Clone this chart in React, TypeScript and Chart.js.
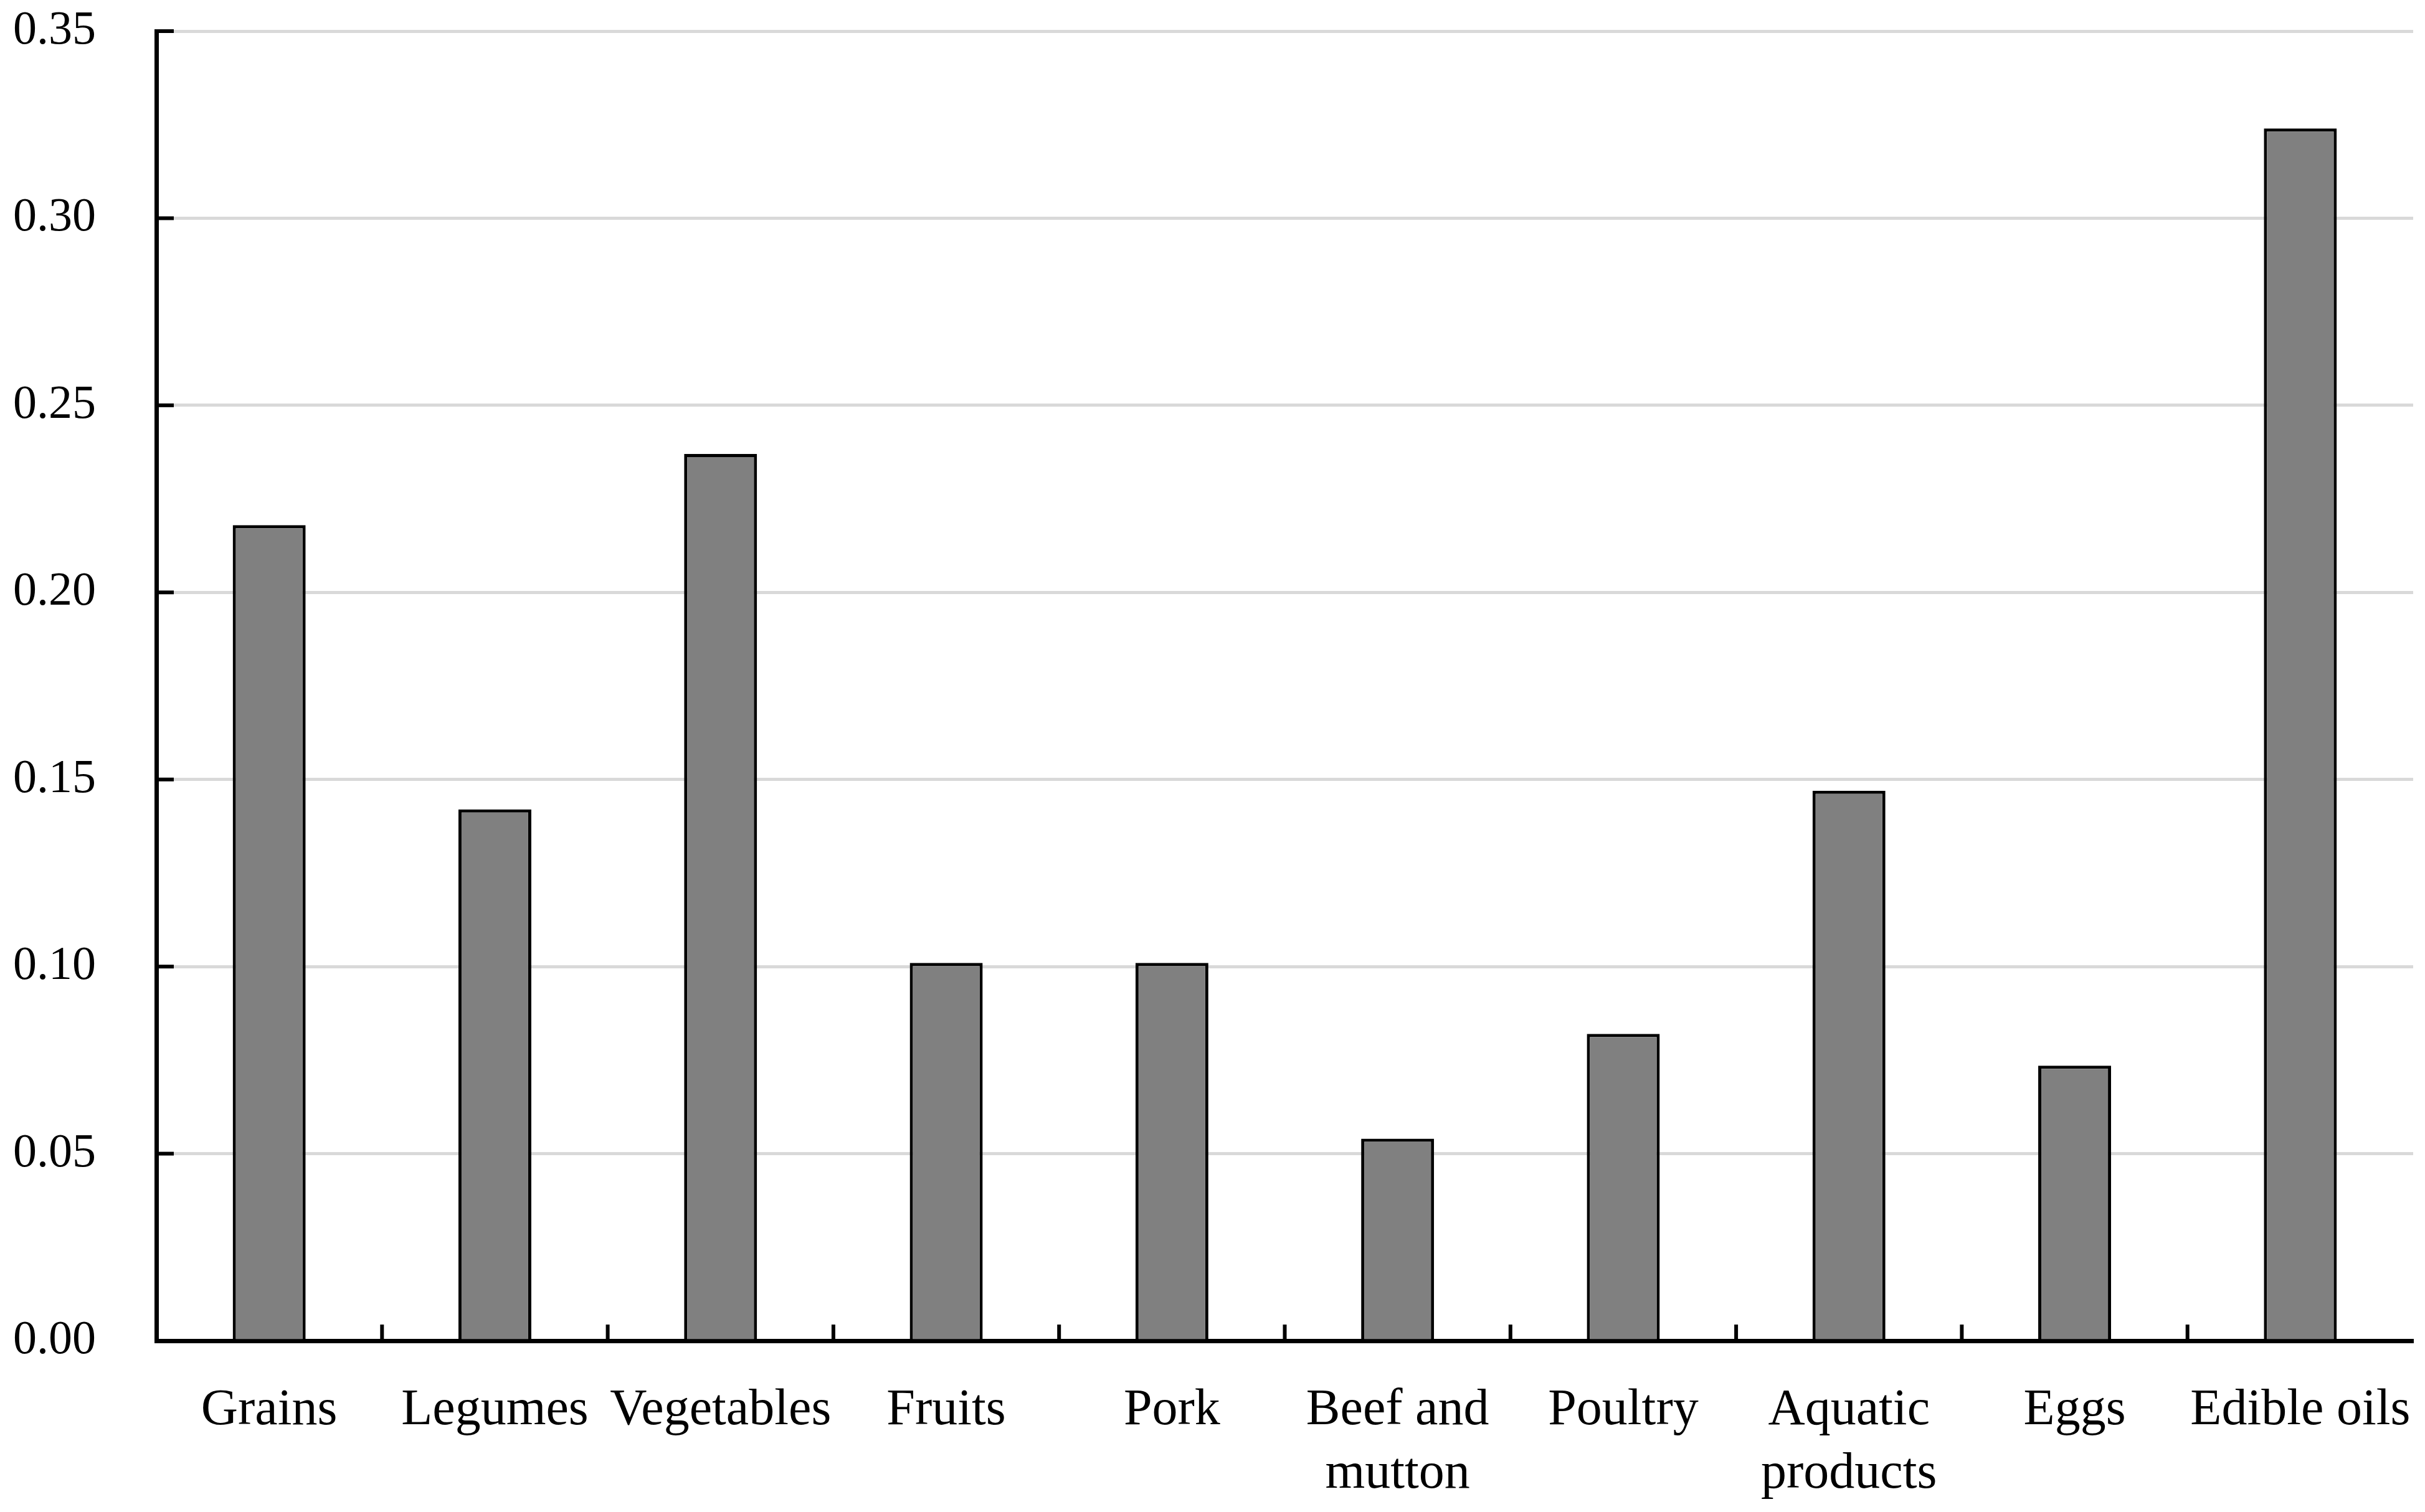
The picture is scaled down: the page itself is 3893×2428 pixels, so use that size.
import { useEffect, useRef } from "react";
import { Chart, registerables } from "chart.js";
import type { Plugin } from "chart.js";

Chart.register(...registerables);

const categories: (string | string[])[] = [
  "Grains",
  "Legumes",
  "Vegetables",
  "Fruits",
  "Pork",
  ["Beef and", "mutton"],
  "Poultry",
  ["Aquatic", "products"],
  "Eggs",
  "Edible oils",
];

const values = [0.218, 0.142, 0.237, 0.101, 0.101, 0.054, 0.082, 0.147, 0.0735, 0.324];

const yTicks = [0, 0.05, 0.1, 0.15, 0.2, 0.25, 0.3, 0.35];

const FONT = "'Liberation Serif', 'Times New Roman', serif";

// small tick marks pointing into the plot, like the original
const innerTicks: Plugin<"bar"> = {
  id: "innerTicks",
  afterDraw(chart) {
    const { ctx, chartArea, scales } = chart;
    const x = scales.x;
    const y = scales.y;
    ctx.save();
    ctx.strokeStyle = "#000";
    ctx.lineWidth = 6;
    yTicks.forEach((v) => {
      const py = y.getPixelForValue(v);
      ctx.beginPath();
      ctx.moveTo(chartArea.left, py);
      ctx.lineTo(chartArea.left + 28, py);
      ctx.stroke();
    });
    for (let i = 0; i < categories.length - 1; i++) {
      const px = (x.getPixelForValue(i) + x.getPixelForValue(i + 1)) / 2;
      ctx.beginPath();
      ctx.moveTo(px, chartArea.bottom);
      ctx.lineTo(px, chartArea.bottom - 26);
      ctx.stroke();
    }
    ctx.restore();
  },
};

export default function App() {
  const canvasRef = useRef<HTMLCanvasElement>(null);
  const chartRef = useRef<Chart | null>(null);

  useEffect(() => {
    document.body.style.margin = "0";
    if (!canvasRef.current) return;
    if (chartRef.current) chartRef.current.destroy();

    chartRef.current = new Chart(canvasRef.current, {
      type: "bar",
      data: {
        labels: categories,
        datasets: [
          {
            data: values,
            backgroundColor: "#808080",
            borderColor: "#000",
            borderWidth: 5,
            barPercentage: 0.323,
            categoryPercentage: 1,
          },
        ],
      },
      options: {
        responsive: false,
        animation: false,
        devicePixelRatio: 1,
        layout: { padding: { top: 50, right: 19, left: 0, bottom: 0 } },
        plugins: {
          legend: { display: false },
          tooltip: { enabled: false },
        },
        scales: {
          x: {
            grid: { display: false, drawTicks: false },
            border: { display: true, color: "#000", width: 7 },
            ticks: {
              color: "#000",
              padding: 62,
              maxRotation: 0,
              autoSkip: false,
              font: { family: FONT, size: 82, lineHeight: 1.24 },
            },
            afterFit: (scale) => {
              scale.height = 275;
              scale.paddingLeft = 0;
              scale.paddingRight = 0;
            },
          },
          y: {
            min: 0,
            max: 0.35,
            afterBuildTicks: (scale) => {
              scale.ticks = yTicks.map((v) => ({ value: v }));
            },
            grid: { color: "#d9d9d9", lineWidth: 5, drawTicks: false },
            border: { display: true, color: "#000", width: 7 },
            ticks: {
              color: "#000",
              padding: 97,
              font: { family: FONT, size: 76 },
              callback: (v) => Number(v).toFixed(2),
            },
            afterFit: (scale) => {
              scale.width = 251;
              scale.paddingTop = 0;
              scale.paddingBottom = 0;
            },
          },
        },
      },
      plugins: [innerTicks],
    });

    return () => {
      if (chartRef.current) {
        chartRef.current.destroy();
        chartRef.current = null;
      }
    };
  }, []);

  return (
    <div style={{ width: 3893, height: 2428, background: "#fff" }}>
      <canvas ref={canvasRef} width={3893} height={2428} />
    </div>
  );
}
